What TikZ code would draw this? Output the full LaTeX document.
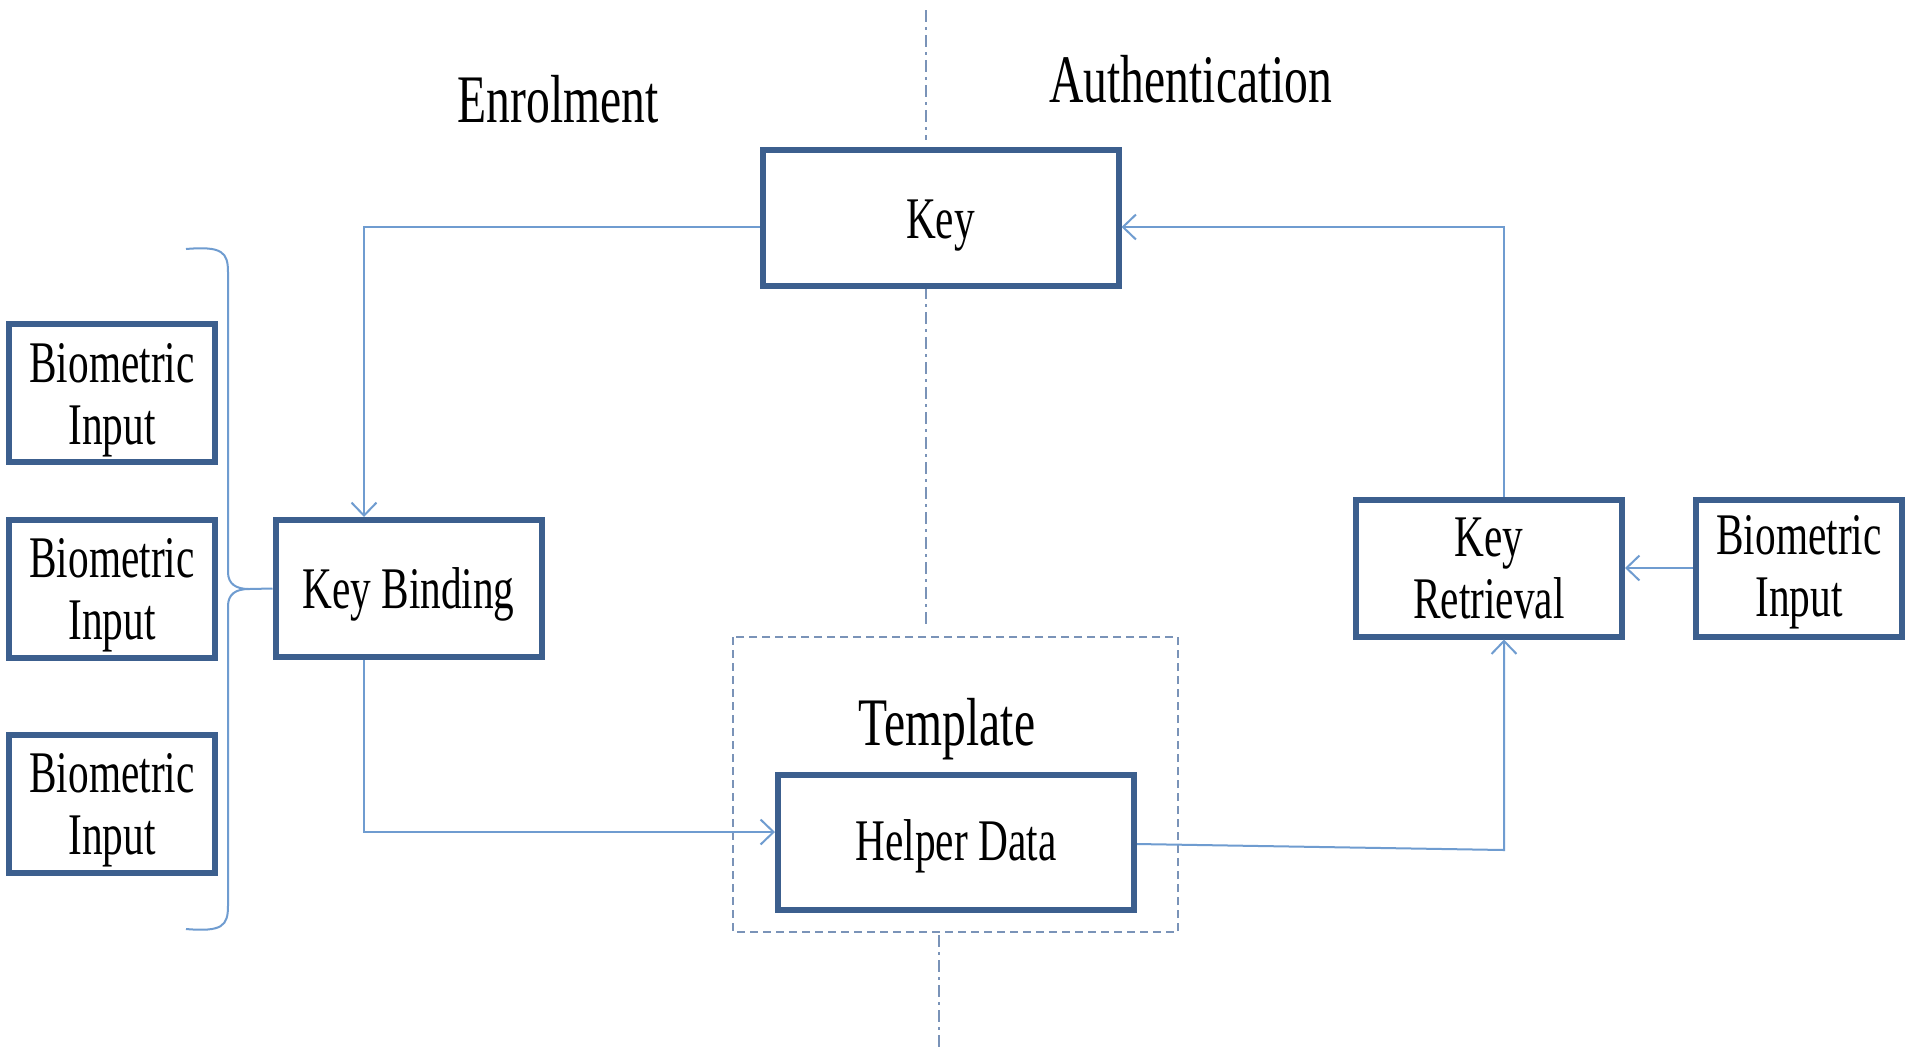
\documentclass[tikz,border=0pt]{standalone}
\usepackage{fontspec}
\setmainfont{Liberation Serif}[FakeStretch=0.7]
\usetikzlibrary{arrows.meta}
\definecolor{boxblue}{HTML}{3C5F8E}
\definecolor{lineblue}{HTML}{6F9CD0}
\definecolor{dashblue}{HTML}{7A93B8}
\begin{document}
\begin{tikzpicture}[x=0.5pt,y=-0.5pt,
  box/.style={draw=boxblue, line width=3pt, fill=white, inner sep=0pt},
  boxtext/.style={align=center, inner sep=0pt, font=\fontsize{29.5}{31}\selectfont},
  conn/.style={draw=lineblue, line width=1pt, -{Straight Barb[length=6.5pt,width=12.5pt]}},
  plain/.style={draw=lineblue, line width=1pt},
  divider/.style={draw=dashblue, line width=1pt, dash pattern=on 6pt off 2.5pt on 1.5pt off 2.5pt},
  heading/.style={font=\fontsize{34}{36}\selectfont, inner sep=0pt}]
\useasboundingbox (0,0) rectangle (1905,1051);
\fill[white] (0,0) rectangle (1905,1051);

% divider
\draw[divider] (926,10) -- (926,140);
\draw[divider] (926,262) -- (926,626);
\draw[divider] (939,935) -- (939,1051);

% headings
\node[heading] (enrol) at (558,99) {Enrolment};
\node[heading] (auth) at (1191,79) {Authentication};

% template group
\draw[draw=dashblue, line width=1pt, dash pattern=on 4pt off 2.5pt] (733,637) rectangle (1178,932);
\node[heading] (tmpl) at (947,729) {Template};

% boxes (sizes in pt = px/2)
\node[box, minimum width=178pt, minimum height=68pt,
  label={[boxtext, yshift=-4pt]center:Key}] (key) at (940.5,217.5) {};
\node[box, minimum width=133pt, minimum height=68.5pt,
  label={[boxtext, yshift=-3pt]center:Key Binding}] (kb) at (408.5,588.5) {};
\node[box, minimum width=103pt, minimum height=69pt,
  label={[boxtext, yshift=-3.5pt]center:Biometric\\Input}] (bio1) at (112,393) {};
\node[box, minimum width=103pt, minimum height=69pt,
  label={[boxtext, yshift=-3.5pt]center:Biometric\\Input}] (bio2) at (112,588.5) {};
\node[box, minimum width=103pt, minimum height=69pt,
  label={[boxtext, yshift=-3.5pt]center:Biometric\\Input}] (bio3) at (112,803.5) {};
\node[box, minimum width=178pt, minimum height=67.5pt,
  label={[boxtext, yshift=-2pt]center:Helper Data}] (hd) at (956,842) {};
\node[box, minimum width=133pt, minimum height=68.5pt,
  label={[boxtext]center:Key\\Retrieval}] (kr) at (1489,568) {};
\node[box, minimum width=103pt, minimum height=68.5pt,
  label={[boxtext, yshift=-2pt]center:Biometric\\Input}] (bior) at (1799,568) {};

% brace
\coordinate (tip) at (249,589);
\draw[plain] (186,249) .. controls (222,246) and (228,252) .. (228,272) -- (228,572)
  .. controls (228,584) and (236,589) .. (tip)
  .. controls (236,589) and (228,594) .. (228,606) -- (228,906)
  .. controls (228,926) and (222,932) .. (186,929);
\draw[plain] (tip) -- (kb.west);

% connectors
\draw[conn] (key.west |- 0,227) -- (364,227) -- (kb.north -| 364,0);
\draw[conn] (kb.south -| 364,0) -- (364,832) -- (hd.west |- 0,832);
\coordinate (hdout) at (1504,850);
\draw[conn] (hd.east |- 0,844) -- (hdout) -- (kr.south -| 1504,0);
\draw[conn] (kr.north -| 1504,0) -- (1504,227) -- (key.east |- 0,227);
\draw[conn] (bior.west) -- (kr.east);
\end{tikzpicture}
\end{document}
